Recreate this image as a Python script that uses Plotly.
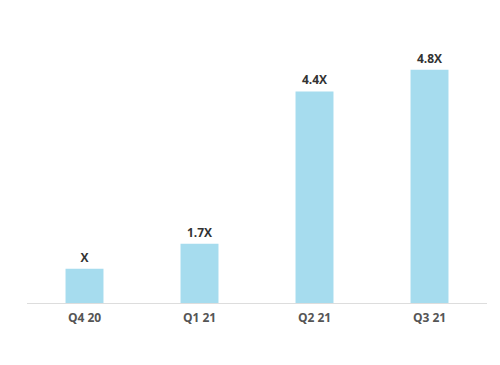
import plotly.graph_objects as go

categories = ["Q4 20", "Q1 21", "Q2 21", "Q3 21"]
values = [1.0, 1.73, 6.19, 6.82]
labels = ["X", "1.7X", "4.4X", "4.8X"]

fig = go.Figure(go.Bar(
    x=categories, y=values, text=labels, textposition="outside",
    marker=dict(color="#a6dcee", line=dict(width=0)),
    textfont=dict(family="Open Sans", size=12, color="#333333", weight="bold"),
    cliponaxis=False, hoverinfo="skip",
))
fig.update_layout(
    width=500, height=365,
    margin=dict(l=27, r=13, t=35, b=62),
    paper_bgcolor="white", plot_bgcolor="white",
    bargap=0.67, showlegend=False,
    xaxis=dict(showline=True, linecolor="#dddddd", linewidth=1,
               ticks="outside", ticklen=4, tickcolor="rgba(0,0,0,0)",
               tickfont=dict(family="Open Sans", size=12, color="#555555", weight="bold"),
               showgrid=False, zeroline=False),
    yaxis=dict(visible=False, range=[0, 7.84], showgrid=False, zeroline=False),
)
fig.write_html("out.html")
